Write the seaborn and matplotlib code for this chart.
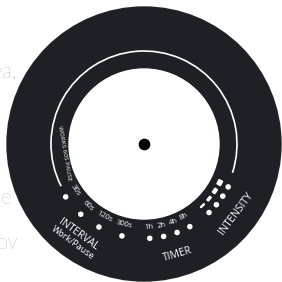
import numpy as np
import pandas as pd
import matplotlib.pyplot as plt
import seaborn as sns
from matplotlib.patches import Circle, Arc, Wedge

sns.set_theme(style="white")
plt.rcParams['font.family'] = ['Open Sans', 'DejaVu Sans']

# dial settings (angles in degrees, 0 = right, counter-clockwise)
interval_labels = ["30s", "60s", "120s", "300s"]
interval_angles = [214, 228, 241.5, 256.5]
timer_labels = ["1h", "2h", "4h", "8h"]
timer_angles = [273.5, 282, 290.5, 299]
intensity_levels = [1, 2, 3, 4]
intensity_angles = [313.5, 320, 326.5, 333]
side_text = ["ea,", "e", "ov"]

R_OUT, R_IN, R_ARC, R_DOT, R_LBL = 137, 75, 93, 94.5, 83
RING = "#1f2026"


def polar(r, a):
    t = np.deg2rad(a)
    return r * np.cos(t), r * np.sin(t)


dots = pd.DataFrame({
    "angle": interval_angles + timer_angles + intensity_angles,
    "group": ["interval"] * 4 + ["timer"] * 4 + ["intensity"] * 4,
})
dots["x"], dots["y"] = polar(R_DOT, dots["angle"].to_numpy())

fig = plt.figure(figsize=(2.82, 2.82), dpi=100)
ax = fig.add_axes([0, 0, 1, 1])
ax.set_xlim(-144, 138)
ax.set_ylim(-138, 144)
ax.set_aspect("equal")
ax.axis("off")

# gray text fragments on the left
for txt, xx, yy in zip(side_text, [-127, -133, -126], [73, -54, -99]):
    ax.text(xx, yy, txt, ha="right", va="center",
            fontsize=15, color="#8c8c8c", family=["Lato", "DejaVu Sans"], fontweight="light")

ax.add_patch(Circle((0, 0), R_OUT, color=RING, zorder=1))
ax.add_patch(Circle((0, 0), R_IN, color="white", zorder=2))
ax.add_patch(Arc((0, 0), 2 * R_ARC, 2 * R_ARC, theta1=-18, theta2=207,
                 color="white", lw=1.2, zorder=3))

sns.scatterplot(data=dots, x="x", y="y", color="white", s=16, edgecolor="none",
                ax=ax, zorder=4, legend=False)
ax.scatter([0], [0], s=55, color="black", zorder=4)

# small tick labels
for lbl, a in zip(interval_labels + timer_labels, interval_angles + timer_angles):
    x, y = polar(R_LBL, a)
    ax.text(x, y, lbl, ha="center", va="center", rotation=a - 270,
            fontsize=5.5, color="white", zorder=5)

# intensity bars getting thicker
for lvl, a in zip(intensity_levels, intensity_angles):
    ax.add_patch(Wedge((0, 0), 85 + lvl * 0.5, a - 1.6, a + 1.6, width=lvl * 1.0,
                       color="white", zorder=5))

# section titles
x, y = polar(112, 234)
ax.text(x, y, "INTERVAL", ha="center", va="center", rotation=-36,
        fontsize=7.5, color="white", zorder=5)
x, y = polar(122, 234)
ax.text(x, y, "Work/Pause", ha="center", va="center", rotation=-36,
        fontsize=6.5, color="white", zorder=5)
x, y = polar(115, 287)
ax.text(x, y, "TIMER", ha="center", va="center", rotation=16,
        fontsize=7.5, color="white", zorder=5)
x, y = polar(115, 323)
ax.text(x, y, "INTENSITY", ha="center", va="center", rotation=53,
        fontsize=7.5, color="white", zorder=5)
x, y = polar(80, 186.5)
ax.text(x, y, "WORKS 60S PAUSE", ha="center", va="center", rotation=-80,
        fontsize=4.6, color="white", zorder=5)

fig.savefig("out.png", dpi=100)
